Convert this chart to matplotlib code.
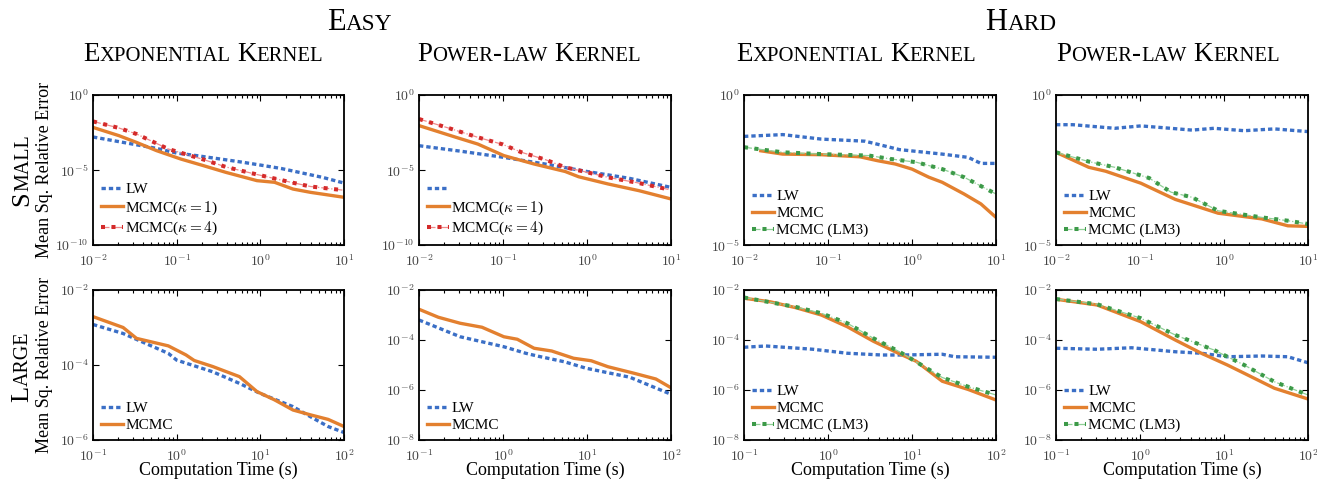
import numpy as np
import matplotlib
matplotlib.use("Agg")
import matplotlib.pyplot as plt
from matplotlib.ticker import FuncFormatter, LogLocator, NullLocator, FixedLocator
from matplotlib.legend_handler import HandlerTuple

plt.rcParams["font.family"] = "serif"
plt.rcParams["font.serif"] = ["Liberation Serif", "DejaVu Serif"]
plt.rcParams["mathtext.fontset"] = "cm"

# values are log10(time in s) and log10(mean sq. relative error)
# --- easy, exponential kernel, small
ees_lw_t = [-2, -1.75, -1.5, -1.25, -1, -0.75, -0.5, -0.25, 0, 0.25, 0.5, 0.75, 1]
ees_lw_e = [-2.8, -3.05, -3.3, -3.55, -3.87, -4.05, -4.25, -4.45, -4.67, -4.9, -5.2, -5.5, -5.87]
ees_mc1_t = [-2, -1.69, -1.48, -1.24, -0.95, -0.68, -0.41, -0.04, 0.17, 0.39, 0.6, 1]
ees_mc1_e = [-2.16, -2.71, -3.16, -3.71, -4.27, -4.71, -5.16, -5.71, -5.82, -6.27, -6.49, -6.82]
ees_mc4_t = [-2, -1.69, -1.48, -1.1, -0.68, -0.41, -0.04, 0.39, 0.6, 1]
ees_mc4_e = [-1.76, -2.2, -2.6, -3.6, -4.3, -4.8, -5.3, -5.85, -6.1, -6.35]
# --- easy, power-law kernel, small
eps_lw_t = [-2, -1.5, -1, -0.5, 0, 0.5, 1]
eps_lw_e = [-3.38, -3.75, -4.15, -4.6, -5.1, -5.55, -6.16]
eps_mc1_t = [-2, -1.56, -1.3, -0.99, -0.63, -0.26, -0.1, 0.25, 0.62, 1]
eps_mc1_e = [-2.04, -2.82, -3.27, -4.04, -4.6, -5.1, -5.45, -5.93, -6.38, -6.93]
eps_mc4_t = [-2, -1.65, -1.3, -1.0, -0.78, -0.5, -0.26, 0.0, 0.25, 0.6, 1]
eps_mc4_e = [-1.6, -2.2, -2.82, -3.3, -3.82, -4.3, -4.82, -5.15, -5.49, -5.85, -6.33]
# --- hard, exponential kernel, small
hes_lw_t = [-2, -1.54, -1.08, -0.56, -0.31, -0.15, 0.36, 0.67, 0.82, 1]
hes_lw_e = [-1.38, -1.32, -1.47, -1.54, -1.71, -1.82, -1.97, -2.08, -2.28, -2.28]
hes_mc_t = [-1.8, -1.54, -1.08, -0.62, -0.41, -0.2, 0, 0.2, 0.36, 0.62, 0.82, 1]
hes_mc_e = [-1.86, -1.97, -1.99, -2.06, -2.19, -2.3, -2.47, -2.74, -2.91, -3.3, -3.63, -4.08]
hes_lm3_t = [-2, -1.54, -1.08, -0.51, -0.26, 0.05, 0.36, 0.62, 1]
hes_lm3_e = [-1.74, -1.91, -1.97, -2.02, -2.13, -2.24, -2.47, -2.74, -3.3]
# --- hard, power-law kernel, small
hps_lw_t = [-2, -1.8, -1.3, -0.99, -0.68, -0.38, -0.12, 0.24, 0.6, 1]
hps_lw_e = [-0.99, -0.99, -1.11, -1.03, -1.1, -1.17, -1.11, -1.19, -1.13, -1.22]
hps_mc_t = [-2, -1.61, -1.41, -0.99, -0.58, -0.07, 0.45, 0.76, 1]
hps_mc_e = [-1.91, -2.41, -2.54, -2.94, -3.48, -3.94, -4.13, -4.36, -4.38]
hps_lm3_t = [-2, -1.61, -1.3, -0.89, -0.63, -0.38, -0.07, 0.45, 0.76, 1]
hps_lm3_e = [-1.91, -2.22, -2.41, -2.77, -3.24, -3.41, -3.86, -4.08, -4.19, -4.3]
# --- easy, exponential kernel, large
eel_lw_t = [-1, -0.64, -0.1, 0.0, 0.43, 0.75, 1.0, 1.39, 1.6, 1.81, 2]
eel_lw_e = [-2.92, -3.16, -3.69, -3.87, -4.18, -4.49, -4.76, -5.11, -5.38, -5.64, -5.8]
eel_mc_t = [-1, -0.64, -0.48, -0.1, 0.11, 0.21, 0.43, 0.75, 0.96, 1.17, 1.39, 1.6, 1.81, 2]
eel_mc_e = [-2.71, -3.0, -3.29, -3.49, -3.73, -3.88, -4.04, -4.31, -4.71, -4.93, -5.2, -5.33, -5.45, -5.64]
# --- easy, power-law kernel, large
epl_lw_t = [-1, -0.51, 0.01, 0.27, 0.42, 0.73, 0.99, 1.51, 2]
epl_lw_e = [-3.2, -3.87, -4.27, -4.53, -4.65, -4.87, -5.13, -5.49, -6.17]
epl_mc_t = [-1, -0.77, -0.51, -0.25, 0.01, 0.17, 0.37, 0.58, 0.84, 1.05, 1.25, 1.56, 1.82, 2]
epl_mc_e = [-2.77, -3.09, -3.33, -3.49, -3.87, -3.97, -4.33, -4.44, -4.73, -4.83, -5.07, -5.33, -5.56, -5.91]
# --- hard, exponential kernel, large
hel_lw_t = [-1, -0.74, -0.18, 0.23, 0.64, 0.9, 1.36, 1.51, 2]
hel_lw_e = [-4.29, -4.24, -4.37, -4.53, -4.6, -4.6, -4.57, -4.67, -4.69]
hel_mc_t = [-1, -0.69, -0.38, -0.08, 0.23, 0.54, 0.85, 1.05, 1.36, 1.67, 2]
hel_mc_e = [-2.33, -2.47, -2.71, -3.0, -3.47, -4.05, -4.55, -4.85, -5.65, -5.98, -6.4]
hel_lm3_t = [-1, -0.38, -0.08, 0.23, 0.54, 0.85, 1.36, 1.67, 2]
hel_lm3_e = [-2.3, -2.68, -2.93, -3.33, -3.93, -4.47, -5.5, -5.87, -6.2]
# --- hard, power-law kernel, large
hpl_lw_t = [-1, -0.51, -0.1, 0.42, 0.73, 1.04, 1.45, 1.76, 2]
hpl_lw_e = [-4.33, -4.37, -4.31, -4.47, -4.53, -4.67, -4.64, -4.67, -4.91]
hpl_mc_t = [-1, -0.51, -0.3, 0.01, 0.42, 0.73, 1.04, 1.24, 1.6, 2]
hpl_mc_e = [-2.37, -2.6, -2.87, -3.27, -4.0, -4.53, -5.0, -5.33, -5.93, -6.36]
hpl_lm3_t = [-1, -0.51, 0.01, 0.42, 0.88, 1.24, 1.6, 2]
hpl_lm3_e = [-2.36, -2.57, -3.13, -3.8, -4.4, -5.0, -5.67, -6.2]

W, H = 1317, 483
fig = plt.figure(figsize=(W / 100, H / 100), dpi=100)

BLUE, ORANGE, RED, GREEN = "#3b6fc6", "#e3802f", "#d42a2a", "#3c9a48"


def lw_line(ax, t, e):
    return ax.plot(10.0 ** np.array(t), 10.0 ** np.array(e), color=BLUE, lw=2.4,
                   dashes=(1.3, 0.9))[0]


def mc_line(ax, t, e):
    return ax.plot(10.0 ** np.array(t), 10.0 ** np.array(e), color=ORANGE, lw=2.4)[0]


def dot_dash(ax, t, e, color, pale):
    x, y = 10.0 ** np.array(t), 10.0 ** np.array(e)
    a = ax.plot(x, y, color=pale, lw=0.9, ls="-.")[0]
    b = ax.plot(x, y, color=color, lw=2.9, dashes=(1, 1.6))[0]
    return (a, b)


def add_axes(left, top, right, bottom):
    return fig.add_axes([left / W, 1 - bottom / H, (right - left) / W, (bottom - top) / H])


def style(ax, xlim, ylim, yticks):
    ax.set_xscale("log")
    ax.set_yscale("log")
    ax.set_xlim(xlim)
    ax.set_ylim(ylim)
    ax.yaxis.set_major_locator(FixedLocator(yticks))
    ax.yaxis.set_minor_locator(NullLocator())
    ax.xaxis.set_minor_locator(LogLocator(subs=np.arange(2, 10)))
    fmt = FuncFormatter(lambda v, p: r"$10^{%d}$" % round(np.log10(v)))
    ax.xaxis.set_major_formatter(fmt)
    ax.yaxis.set_major_formatter(fmt)
    ax.tick_params(which="both", direction="in", top=True, right=True,
                   labelsize=10, labelcolor="#444444", width=0.8)
    ax.tick_params(which="major", length=4, pad=3)
    ax.tick_params(axis="x", which="major", pad=6)
    ax.tick_params(which="minor", length=2)
    for s in ax.spines.values():
        s.set_linewidth(1.3)


def legend(ax, handles, labels):
    ax.legend(handles, labels, loc="lower left", frameon=False, fontsize=11,
              handlelength=1.45, handletextpad=0.15, labelspacing=0.22,
              borderpad=0.2, borderaxespad=0.3,
              handler_map={tuple: HandlerTuple(ndivide=1)})


lefts = [93, 419, 744, 1056]
rights = [344, 671, 996, 1308]
tops = [95, 290]
bottoms = [245, 440]

# top row: small
ax = add_axes(lefts[0], tops[0], rights[0], bottoms[0])
h1 = lw_line(ax, ees_lw_t, ees_lw_e)
h3 = dot_dash(ax, ees_mc4_t, ees_mc4_e, RED, "#f08a8a")
h2 = mc_line(ax, ees_mc1_t, ees_mc1_e)
style(ax, (1e-2, 1e1), (1e-10, 1), [1e-10, 1e-5, 1])
legend(ax, [h1, h2, h3], ["LW", r"MCMC($\kappa = 1$)", r"MCMC($\kappa = 4$)"])

ax = add_axes(lefts[1], tops[0], rights[1], bottoms[0])
h1 = lw_line(ax, eps_lw_t, eps_lw_e)
h3 = dot_dash(ax, eps_mc4_t, eps_mc4_e, RED, "#f08a8a")
h2 = mc_line(ax, eps_mc1_t, eps_mc1_e)
style(ax, (1e-2, 1e1), (1e-10, 1), [1e-10, 1e-5, 1])
legend(ax, [h1, h2, h3], ["", r"MCMC($\kappa = 1$)", r"MCMC($\kappa = 4$)"])

ax = add_axes(lefts[2], tops[0], rights[2], bottoms[0])
h1 = lw_line(ax, hes_lw_t, hes_lw_e)
h2 = mc_line(ax, hes_mc_t, hes_mc_e)
h3 = dot_dash(ax, hes_lm3_t, hes_lm3_e, GREEN, "#8fcf96")
style(ax, (1e-2, 1e1), (1e-5, 1), [1e-5, 1])
legend(ax, [h1, h2, h3], ["LW", "MCMC", "MCMC (LM3)"])

ax = add_axes(lefts[3], tops[0], rights[3], bottoms[0])
h1 = lw_line(ax, hps_lw_t, hps_lw_e)
h2 = mc_line(ax, hps_mc_t, hps_mc_e)
h3 = dot_dash(ax, hps_lm3_t, hps_lm3_e, GREEN, "#8fcf96")
style(ax, (1e-2, 1e1), (1e-5, 1), [1e-5, 1])
legend(ax, [h1, h2, h3], ["LW", "MCMC", "MCMC (LM3)"])

# bottom row: large
ax = add_axes(lefts[0], tops[1], rights[0], bottoms[1])
h1 = lw_line(ax, eel_lw_t, eel_lw_e)
h2 = mc_line(ax, eel_mc_t, eel_mc_e)
style(ax, (1e-1, 1e2), (1e-6, 1e-2), [1e-6, 1e-4, 1e-2])
legend(ax, [h1, h2], ["LW", "MCMC"])

ax = add_axes(lefts[1], tops[1], rights[1], bottoms[1])
h1 = lw_line(ax, epl_lw_t, epl_lw_e)
h2 = mc_line(ax, epl_mc_t, epl_mc_e)
style(ax, (1e-1, 1e2), (1e-8, 1e-2), [1e-8, 1e-6, 1e-4, 1e-2])
legend(ax, [h1, h2], ["LW", "MCMC"])

ax = add_axes(lefts[2], tops[1], rights[2], bottoms[1])
h1 = lw_line(ax, hel_lw_t, hel_lw_e)
h2 = mc_line(ax, hel_mc_t, hel_mc_e)
h3 = dot_dash(ax, hel_lm3_t, hel_lm3_e, GREEN, "#8fcf96")
style(ax, (1e-1, 1e2), (1e-8, 1e-2), [1e-8, 1e-6, 1e-4, 1e-2])
legend(ax, [h1, h2, h3], ["LW", "MCMC", "MCMC (LM3)"])

ax = add_axes(lefts[3], tops[1], rights[3], bottoms[1])
h1 = lw_line(ax, hpl_lw_t, hpl_lw_e)
h2 = mc_line(ax, hpl_mc_t, hpl_mc_e)
h3 = dot_dash(ax, hpl_lm3_t, hpl_lm3_e, GREEN, "#8fcf96")
style(ax, (1e-1, 1e2), (1e-8, 1e-2), [1e-8, 1e-6, 1e-4, 1e-2])
legend(ax, [h1, h2, h3], ["LW", "MCMC", "MCMC (LM3)"])


def small_caps(x, y, text, size, rotation=0, ratio=0.76):
    """Fake small caps: x, y are pixels from the top-left, y (or x when rotated) is the baseline."""
    r = fig.canvas.get_renderer()
    pieces = []
    for i, word in enumerate(text.split(" ")):
        if i:
            pieces.append((None, size))
        run, big = "", None
        for ch in word:
            b = not ch.islower()
            if big is not None and b != big:
                pieces.append((run.upper(), size if big else size * ratio))
                run = ""
            run += ch
            big = b
        pieces.append((run.upper(), size if big else size * ratio))
    items = []
    for s, sz in pieces:
        if s is None:
            items.append((None, 0.25 * sz * 100 / 72))
            continue
        t = fig.text(0, 0, s, fontsize=sz, ha="left", va="baseline", rotation_mode="anchor")
        items.append((t, t.get_window_extent(r).width))
    total = sum(w for _, w in items)
    pos = -total / 2
    for t, w in items:
        if t is not None:
            if rotation:
                t.set_rotation(90)
                t.set_position((x / W, 1 - (y - pos) / H))
            else:
                t.set_position(((x + pos) / W, 1 - y / H))
        pos += w


small_caps(360, 30, "Easy", 22)
small_caps(1021, 30, "Hard", 22)
for cx, name in zip([203, 529, 856, 1168],
                    ["Exponential Kernel", "Power-law Kernel"] * 2):
    small_caps(cx, 61, name, 19.5)
small_caps(28, 170, "Small", 19, rotation=90)
small_caps(28, 367, "Large", 19, rotation=90)
for cy in [170, 365]:
    fig.text(45 / W, 1 - cy / H, "Mean Sq. Relative Error", fontsize=13,
             rotation=90, ha="center", va="center")
for l, r in zip(lefts, rights):
    fig.text((l + r) / 2 / W, 1 - 470 / H, "Computation Time (s)", fontsize=13,
             ha="center", va="center")

fig.savefig("out.png", dpi=100)
